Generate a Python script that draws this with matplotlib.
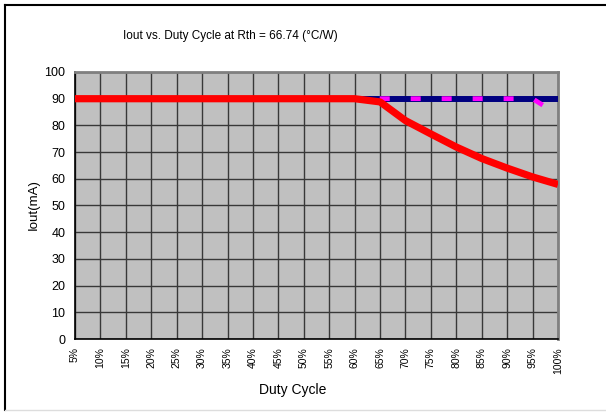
import matplotlib.pyplot as plt
from matplotlib.lines import Line2D
import numpy as np

plt.rcParams['font.family'] = ['Liberation Sans', 'DejaVu Sans']
plt.rcParams['lines.scale_dashes'] = False

duty = ['5%', '10%', '15%', '20%', '25%', '30%', '35%', '40%', '45%', '50%',
        '55%', '60%', '65%', '70%', '75%', '80%', '85%', '90%', '95%', '100%']
iout_set = [90] * 20
iout_limit = [90] * 19 + [84]
iout_actual = [90, 90, 90, 90, 90, 90, 90, 90, 90, 90,
               90, 90, 88.8, 81.8, 76.8, 71.9, 67.6, 64.0, 60.7, 57.9]

W, H = 606, 412
fig = plt.figure(figsize=(W / 100, H / 100), dpi=100)
ax = fig.add_axes([75 / W, 1 - 339 / H, (558 - 75) / W, (339 - 72) / H])

x = np.arange(len(duty))
ax.set_facecolor('#C0C0C0')
ax.plot(x, iout_set, color='#000080', lw=4.3, solid_capstyle='butt', zorder=3)
ax.plot(x, iout_limit, color='#FF00FF', lw=3.4, dash_capstyle='butt',
        linestyle=(3.6, (7.2, 15.1)), zorder=4)
ax.plot(x, iout_actual, color='#FF0000', lw=5.2, solid_capstyle='butt',
        solid_joinstyle='round', zorder=5)

ax.set_xlim(0, len(duty) - 1)
ax.set_ylim(0, 100)
ax.set_xticks(x)
ax.set_xticklabels(duty, rotation=90, fontsize=7.5)
ax.set_yticks(range(0, 101, 10))
ax.tick_params(axis='both', length=0)
ax.tick_params(axis='y', labelsize=9, pad=7)
ax.tick_params(axis='x', pad=6)
ax.grid(True, color='#383838', lw=1.0)
ax.set_axisbelow(True)

for s in ['left', 'bottom']:
    ax.spines[s].set_color('black')
    ax.spines[s].set_linewidth(1.2)
for s in ['top', 'right']:
    ax.spines[s].set_color('#808080')
    ax.spines[s].set_linewidth(2)

ax.set_xlabel('Duty Cycle', fontsize=10)
ax.xaxis.set_label_coords((293 - 75) / 483, -(383 - 339) / 267, transform=ax.transAxes)
ax.set_ylabel('Iout(mA)', fontsize=9.5)
ax.yaxis.set_label_coords(-(75 - 40) / 483, (339 - 205) / 267, transform=ax.transAxes)
fig.text(230 / W, 1 - 36 / H, 'Iout vs. Duty Cycle at Rth = 66.74 (°C/W)',
         ha='center', va='center', fontsize=8.5)

# chart frame
fig.add_artist(Line2D([5 / W, 5 / W], [1 - 410 / H, 1 - 5 / H], color='black', lw=1.5))
fig.add_artist(Line2D([5 / W, 1], [1 - 5 / H, 1 - 5 / H], color='black', lw=1.5))
fig.add_artist(Line2D([5 / W, 1], [1 - 410 / H, 1 - 410 / H], color='#DDDDDD', lw=1))

fig.savefig('out.png', dpi=100)
